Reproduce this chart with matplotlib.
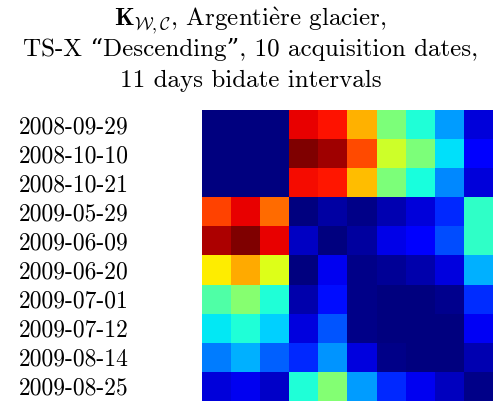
import matplotlib
matplotlib.use("Agg")
import matplotlib.pyplot as plt
import numpy as np

dates = ["2008-09-29", "2008-10-10", "2008-10-21", "2009-05-29", "2009-06-09",
         "2009-06-20", "2009-07-01", "2009-07-12", "2009-08-14", "2009-08-25"]

row_0929 = [0.00, 0.00, 0.00, 0.91, 0.89, 0.72, 0.50, 0.39, 0.28, 0.08]
row_1010 = [0.00, 0.00, 0.00, 1.00, 0.97, 0.83, 0.60, 0.50, 0.345, 0.115]
row_1021 = [0.00, 0.00, 0.00, 0.895, 0.885, 0.71, 0.50, 0.38, 0.26, 0.08]
row_0529 = [0.837, 0.91, 0.794, 0.00, 0.033, 0.01, 0.045, 0.08, 0.165, 0.41]
row_0609 = [0.96, 1.00, 0.91, 0.06, 0.00, 0.03, 0.09, 0.115, 0.20, 0.41]
row_0620 = [0.66, 0.73, 0.62, 0.00, 0.10, 0.01, 0.02, 0.04, 0.085, 0.30]
row_0701 = [0.447, 0.515, 0.39, 0.04, 0.14, 0.01, 0.00, 0.00, 0.015, 0.17]
row_0712 = [0.355, 0.39, 0.33, 0.085, 0.21, 0.01, 0.00, 0.00, 0.00, 0.105]
row_0814 = [0.247, 0.30, 0.22, 0.165, 0.27, 0.085, 0.01, 0.00, 0.00, 0.045]
row_0825 = [0.08, 0.10, 0.065, 0.39, 0.51, 0.28, 0.165, 0.10, 0.055, 0.01]

K = np.array([row_0929, row_1010, row_1021, row_0529, row_0609,
              row_0620, row_0701, row_0712, row_0814, row_0825])

plt.rcParams['font.family'] = ['cmr10', 'DejaVu Serif']
plt.rcParams['mathtext.fontset'] = 'cm'

fig = plt.figure(figsize=(5.01, 4.08), dpi=100)
ax = fig.add_axes([0.4032, 0.0172, 0.5808, 0.7132])
ax.imshow(K, cmap='jet', vmin=0, vmax=1, interpolation='nearest', aspect='auto')
ax.set_xticks([])
ax.set_yticks(range(len(dates)))
ax.set_yticklabels(dates, fontsize=17)
ax.tick_params(axis='y', length=0, pad=53)
for s in ax.spines.values():
    s.set_visible(False)

fig.text(0.5, 0.936, r"$\mathbf{K}_{\mathcal{W},\mathcal{C}}$, Argenti$\mathrm{\grave{e}}$re glacier,",
         ha='center', va='baseline', fontsize=18)
fig.text(0.5, 0.863, "TS-X \u201cDescending\u201d, 10 acquisition dates,",
         ha='center', va='baseline', fontsize=18)
fig.text(0.5, 0.787, "11 days bidate intervals",
         ha='center', va='baseline', fontsize=18)

fig.savefig("out.png", dpi=100)
